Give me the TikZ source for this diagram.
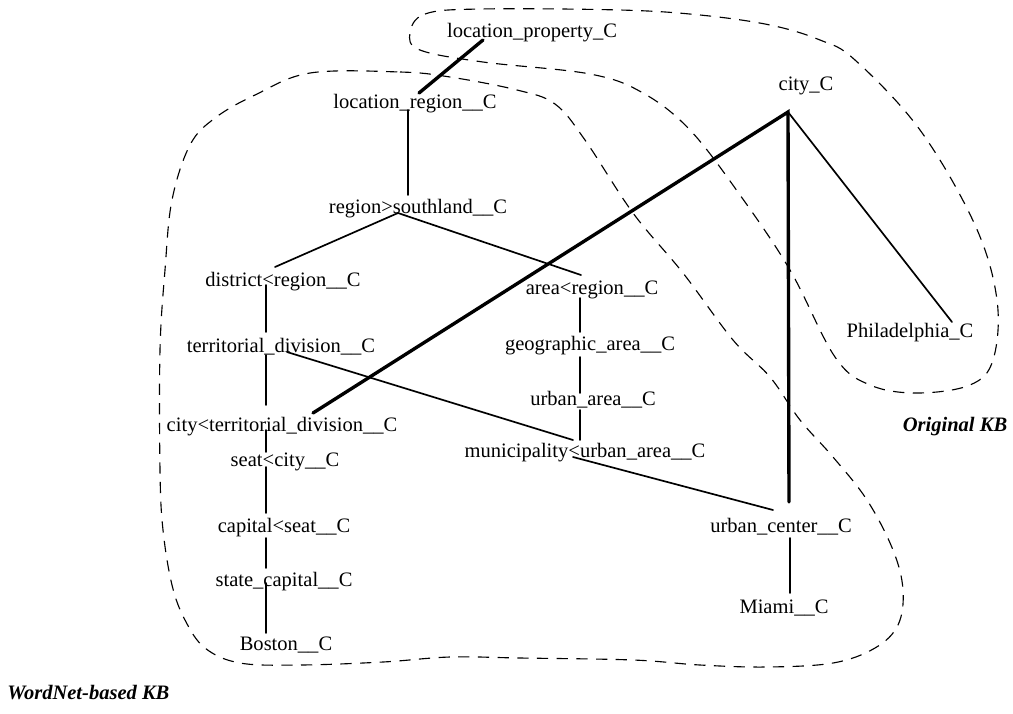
\documentclass[tikz,border=0pt]{standalone}
\usepackage{fontspec}
\setmainfont{Liberation Serif}
\usepackage{tikz}
\usetikzlibrary{calc}
\definecolor{ink}{HTML}{000000}
\tikzset{
  link/.style={draw=ink, line width=1.2pt, line cap=round},
  strong/.style={draw=ink, line width=2.4pt, line cap=round, line join=miter},
  region/.style={draw=ink, line width=0.8pt, dash pattern=on 8pt off 6pt},
  lab/.style={text=ink, inner sep=0pt, font=\fontsize{14.6}{17}\selectfont},
  kb/.style={text=ink, inner sep=0pt, font=\fontsize{14.6}{17}\selectfont\bfseries\itshape},
}

\begin{document}
\begin{tikzpicture}[x=0.025cm, y=-0.025cm]
  \useasboundingbox (0,0) rectangle (1013,713);
  % concept nodes
  \node[lab] (lp) at (532,33)  {location\_property\_C};
  \node[lab] (lr) at (415,104) {location\_region\_\_C};
  \node[lab] (rs) at (418,209) {region>southland\_\_C};
  \node[lab] (dr) at (283,282) {district<region\_\_C};
  \node[lab] (ar) at (592,290) {area<region\_\_C};
  \node[lab] (td) at (281,347) {territorial\_division\_\_C};
  \node[lab] (ga) at (590,346) {geographic\_area\_\_C};
  \node[lab] (ua) at (593,400) {urban\_area\_\_C};
  \node[lab] (ct) at (282,427) {city<territorial\_division\_\_C};
  \node[lab] (mu) at (585,453) {municipality<urban\_area\_\_C};
  \node[lab] (sc) at (285,462) {seat<city\_\_C};
  \node[lab] (cs) at (284,528) {capital<seat\_\_C};
  \node[lab] (st) at (284,582) {state\_capital\_\_C};
  \node[lab] (bo) at (286,645) {Boston\_\_C};
  \node[lab] (cy) at (806,86)  {city\_C};
  \node[lab] (ph) at (910,333) {Philadelphia\_C};
  \node[lab] (uc) at (781,527) {urban\_center\_\_C};
  \node[lab] (mi) at (784,608) {Miami\_\_C};
  \node[kb] (okb) at (955,427) {Original KB};
  \node[kb, anchor=west] (wkb) at (7,693) {WordNet-based KB};

  % knowledge base outlines
  \draw[region] plot[smooth cycle, tension=0.6] coordinates {
    (410,33) (425,14) (480,9) (620,10) (700,15) (770,25) (820,40) (855,60)
    (920,130) (975,225) (997,300) (993,360) (970,385) (917,393) (870,385)
    (835,357) (790,270) (740,195) (690,130) (643,93) (590,74) (483,62) (420,50)};
  \draw[region] plot[smooth cycle, tension=0.6] coordinates {
    (310,73) (400,72) (450,77) (517,90) (555,104) (585,140) (633,213) (683,273)
    (733,340) (770,377) (800,420) (833,457) (867,500) (893,550) (903,590)
    (898,625) (875,648) (833,663) (767,667) (700,665) (633,660) (520,658)
    (450,657) (383,662) (300,665) (240,663) (205,648) (185,620) (172,585)
    (163,530) (160,470) (160,350) (165,270) (172,200) (190,145) (215,118) (255,95)};

  % links
  \draw[strong] ($(lp)+(-49,7)$) -- ($(lr)+(4,-11)$);
  \draw[link] ($(lr)+(-7,6)$) -- ($(rs)+(-10,-14)$);
  \draw[link] ($(dr)+(-8,-15)$) -- ($(rs)+(-20,4)$) -- ($(ar)+(-11,-15)$);
  \draw[link] ($(dr)+(-17,3)$) -- ($(td)+(-15,-15)$);
  \draw[link] ($(td)+(-15,8)$) -- ($(ct)+(-16,-22)$);
  \draw[link] ($(ct)+(-16,3)$) -- ($(sc)+(-19,-10)$);
  \draw[link] ($(sc)+(-19,5)$) -- ($(cs)+(-18,-15)$);
  \draw[link] ($(cs)+(-18,10)$) -- ($(st)+(-18,-14)$);
  \draw[link] ($(st)+(-18,1)$) -- ($(bo)+(-20,-12)$);
  \draw[link] ($(ar)+(-12,8)$) -- ($(ga)+(-10,-14)$);
  \draw[link] ($(ga)+(-10,11)$) -- ($(ua)+(-13,-7)$);
  \draw[link] ($(ua)+(-13,10)$) -- ($(mu)+(-5,-13)$);
  \draw[link] ($(td)+(6,5)$) -- ($(mu)+(-12,-13)$);
  \draw[link] ($(mu)+(-12,4)$) -- ($(uc)+(-8,-17)$);
  \draw[strong] ($(ct)+(31,-14)$) -- ($(cy)+(-18,26)$) -- ($(uc)+(8,-25)$);
  \draw[link] ($(cy)+(-18,26)$) -- ($(ph)+(42,-11)$);
  \draw[link] ($(uc)+(9,11)$) -- ($(mi)+(6,-15)$);
\end{tikzpicture}
\end{document}
